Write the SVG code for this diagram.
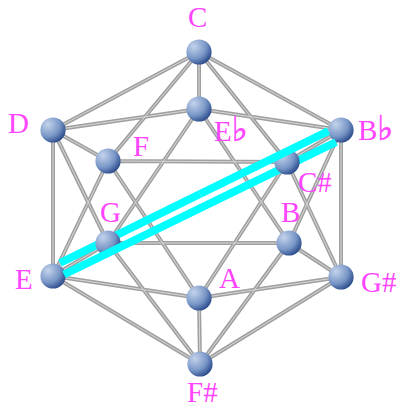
<svg xmlns="http://www.w3.org/2000/svg" xmlns:xlink="http://www.w3.org/1999/xlink" width="400" height="408" viewBox="0 0 400 408">
<style>
text{font-family:"Liberation Serif","DejaVu Serif",serif;font-size:29px;fill:#ff44ff}
.flat{font-family:"DejaVu Sans",sans-serif;font-size:34px;stroke:#ff44ff;stroke-width:0.6}
.edges{fill:none}
.o{stroke:#a0a0a0;stroke-width:4}
.i{stroke:#d8d8d8;stroke-width:1}
.cy{stroke:#00ffff;stroke-width:8;fill:none}
</style>
<defs>
<radialGradient id="ball" cx="0.3" cy="0.28" r="0.8">
<stop offset="0" stop-color="#c4d3ec"/>
<stop offset="0.6" stop-color="#7896c6"/>
<stop offset="1" stop-color="#264688"/>
</radialGradient>
<circle id="b" r="12.6" fill="url(#ball)"/>
<path id="edgepath" d="M199 52L53 130M199 52L199 109M199 52L341 130M199 52L108 161M199 52L287 162M199 109L53 130M199 109L341 130M199 109L108 243M199 109L289 243M53 130L108 161M53 130L53 276M53 130L108 243M108 161L287 162M108 161L53 276M108 161L199 298M287 162L341 130M287 162L199 298M287 162L341 277M108 243L53 276M108 243L289 243M108 243L200 364M289 243L341 130M289 243L341 277M289 243L200 364M341 130L341 277M53 276L199 298M53 276L200 364M341 277L199 298M341 277L200 364M199 298L200 364"/>
</defs>
<g id="connectors" class="edges">
<use xlink:href="#edgepath" class="o"/>
<use xlink:href="#edgepath" class="i"/>
</g>
<line id="cyan-upper-left" class="cy" x1="60" y1="263" x2="200" y2="194"/>
<g id="node-Bb"><use xlink:href="#b" x="341" y="130"/><text x="358" y="140">B<tspan class="flat">♭</tspan></text></g>
<g id="node-Eb"><use xlink:href="#b" x="199" y="109"/><text x="214" y="141">E<tspan class="flat">♭</tspan></text></g>
<g id="node-C"><use xlink:href="#b" x="199" y="52"/><text x="188" y="27">C</text></g>
<g id="node-D"><use xlink:href="#b" x="53" y="130"/><text x="8" y="133">D</text></g>
<g id="node-F"><use xlink:href="#b" x="108" y="161"/><text x="133" y="156">F</text></g>
<g id="node-E"><use xlink:href="#b" x="53" y="276"/><text x="15" y="289">E</text></g>
<g id="node-Gs"><use xlink:href="#b" x="341" y="277"/><text x="361" y="292">G#</text></g>
<g id="node-A"><use xlink:href="#b" x="199" y="298"/><text x="219" y="288">A</text></g>
<g id="node-Fs"><use xlink:href="#b" x="200" y="364"/><text x="187" y="402">F#</text></g>
<g id="node-B"><use xlink:href="#b" x="289" y="243"/><text x="281" y="222">B</text></g>
<g id="node-G"><use xlink:href="#b" x="108" y="243"/><text x="100" y="222">G</text></g>
<line id="cyan-lower" class="cy" x1="64" y1="274.5" x2="336" y2="142"/>
<g id="node-Cs"><use xlink:href="#b" x="287" y="162"/><text x="298" y="192">C#</text></g>
<line id="cyan-upper-right" class="cy" x1="200" y1="194" x2="328.5" y2="131"/>
</svg>
